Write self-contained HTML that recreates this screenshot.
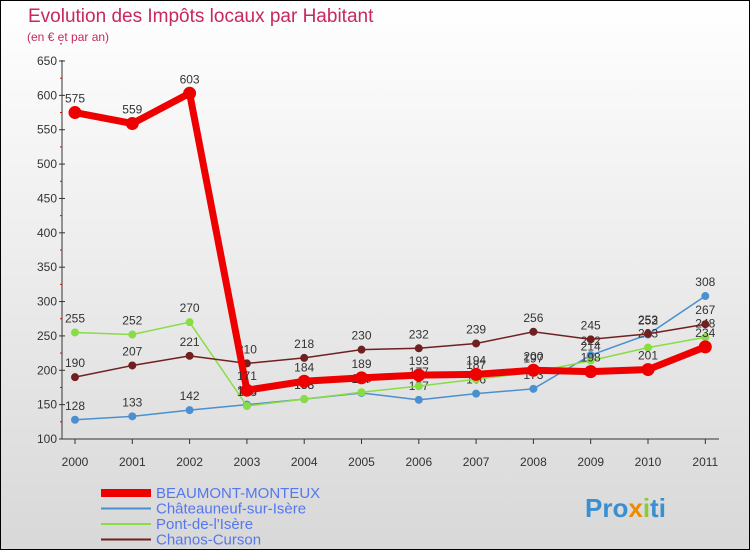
<!DOCTYPE html>
<html><head><meta charset="utf-8"><style>
body{margin:0}
#c{width:748px;height:548px;border:1px solid #000;background:linear-gradient(#fff,#d8d8d8);position:relative;font-family:"Liberation Sans",sans-serif;overflow:hidden}
</style></head><body>
<div id="c">
<svg id="s" width="748" height="548" style="position:absolute;left:0;top:0"></svg>
</div>
<script>
const years=["2000","2001","2002","2003","2004","2005","2006","2007","2008","2009","2010","2011"];
const beaumont=[575,559,603,171,184,189,193,194,200,198,201,234];
const chateauneuf=[128,133,142,150,158,167,157,166,173,222,252,308];
const pont=[255,252,270,148,158,168,177,187,197,214,233,248];
const chanos=[190,207,221,210,218,230,232,239,256,245,253,267];
const yTicks=[100,150,200,250,300,350,400,450,500,550,600,650];
const names=["BEAUMONT-MONTEUX","Châteauneuf-sur-Isère","Pont-de-l'Isère","Chanos-Curson"];
const NS="http://www.w3.org/2000/svg",s=document.getElementById('s');
function X(i){return 74+i*57.3;}
function Y(v){return 438-(v-100)*(378/550);}
function el(t,a,p){const e=document.createElementNS(NS,t);for(const k in a)e.setAttribute(k,a[k]);(p||s).appendChild(e);return e;}
let t=el('text',{x:27,y:21,fill:'#c8285a','font-size':19});t.textContent='Evolution des Impôts locaux par Habitant';

t=el('text',{x:26,y:40,fill:'#c8285a','font-size':12});t.textContent='(en € et par an)';

let a=el('line',{x1:61,y1:59,x2:61,y2:438,stroke:'#333'});
a=el('line',{x1:61,y1:438,x2:718,y2:438,stroke:'#333'});
yTicks.forEach(v=>{const l=el('text',{x:56,y:Y(v)+4,'text-anchor':'end','font-size':12,fill:'#333'});l.textContent=v;

el('line',{x1:58,y1:Y(v),x2:64,y2:Y(v),stroke:'#333'});
el('line',{x1:59,y1:Y(v+25),x2:61,y2:Y(v+25),stroke:'#e00'});});
years.forEach((y,i)=>{const l=el('text',{x:X(i),y:465,'text-anchor':'middle','font-size':12,fill:'#333'});l.textContent=y;

el('line',{x1:X(i),y1:438,x2:X(i),y2:443,stroke:'#333'});});
function series(d,col,w,r,fill,name){const g=el('g',{});
el('polyline',{points:d.map((v,i)=>X(i)+','+Y(v)).join(' '),fill:'none',stroke:col,'stroke-width':w},g);
d.forEach((v,i)=>{const c=el('circle',{cx:X(i),cy:Y(v),r:r,fill:fill,stroke:col,'stroke-width':1},g);
const l=el('text',{x:X(i),y:Y(v)-10,'text-anchor':'middle','font-size':12,fill:'#333'},g);l.textContent=v;});}
series(chateauneuf,'#4a90d0',1.5,3.5,'#4a90d0','series-chateauneuf');
series(pont,'#88dd44',1.5,3.5,'#88dd44','series-pont');
series(chanos,'#702020',1.5,3.5,'#702020','series-chanos');
series(beaumont,'#ee0000',7,6,'#ee0000','series-beaumont');
const lc=['#ee0000','#4a90d0','#88dd44','#702020'],lw=[8,2,2,2];
names.forEach((n,i)=>{const g=el('g',{});
const y=492+i*15.5;el('line',{x1:100,y1:y,x2:150,y2:y,stroke:lc[i],'stroke-width':lw[i]},g);
const l=el('text',{x:155,y:y+5,'font-size':15,fill:'#5577ee'},g);l.textContent=n;});
t=el('text',{x:584,y:516,'font-size':26,'font-weight':'bold'});

[['Pro','#3a8fd0'],['x','#f08a00'],['i','#88cc33'],['ti','#3a8fd0']].forEach(p=>{const sp=el('tspan',{fill:p[1]},t);sp.textContent=p[0];});
</script>
</body></html>
